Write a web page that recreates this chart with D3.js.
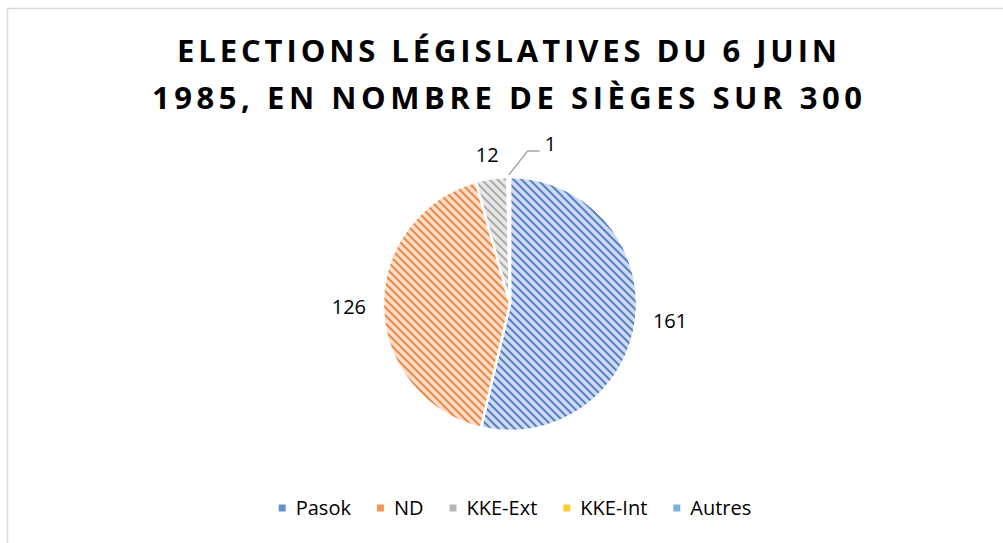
<!DOCTYPE html>
<html>
<head>
<meta charset="utf-8">
<script src="https://cdn.jsdelivr.net/npm/d3@7"></script>
<style>
  html, body { margin: 0; padding: 0; background: #fff; }
  svg { display: block; font-family: "Open Sans", "Noto Sans", sans-serif; }
</style>
</head>
<body>
<svg id="chart" width="1003" height="543"></svg>
<script>
// Seats won per party, legislative elections of 2 June 1985 (300 seats)
const parties = ["Pasok", "ND", "KKE-Ext", "KKE-Int", "Autres"];
const seats = [161, 126, 12, 1, 0];
const colors = ["#4472C4", "#ED7D31", "#A5A5A5", "#FFC000", "#5B9BD5"];
const titleLines = ["ELECTIONS LÉGISLATIVES DU 6 JUIN", "1985, EN NOMBRE DE SIÈGES SUR 300"];

const svg = d3.select("#chart");

// outer chart frame (runs off the right and bottom edges)
svg.append("rect")
  .attr("x", 7.5).attr("y", 8.5)
  .attr("width", 1010).attr("height", 560)
  .attr("fill", "#fff")
  .attr("stroke", "#d9d9d9").attr("stroke-width", 1.5);

// diagonal hatch patterns, one per party colour
const defs = svg.append("defs");
colors.forEach((c, i) => {
  const p = defs.append("pattern")
    .attr("id", "hatch" + i)
    .attr("patternUnits", "userSpaceOnUse")
    .attr("width", 8).attr("height", 8);
  p.append("rect").attr("width", 8).attr("height", 8)
    .attr("fill", d3.interpolateRgb("#ffffff", c)(0.25));
  p.append("path")
    .attr("d", "M-2,-2 L10,10 M-2,6 L2,10 M6,-2 L10,2")
    .attr("stroke", c).attr("stroke-width", 2.2).attr("stroke-opacity", 0.85);
});

// title
const title = svg.append("g").attr("font-weight", 700).attr("font-size", 31).attr("fill", "#000");
const titleWidths = [660, 710];
titleLines.forEach((t, i) => {
  title.append("text")
    .attr("x", 507).attr("y", 62 + i * 47)
    .attr("text-anchor", "middle")
    .attr("textLength", titleWidths[i])
    .attr("lengthAdjust", "spacing")
    .text(t);
});

// pie
const cx = 510, cy = 304, r = 127;
const data = parties.map((p, i) => ({ party: p, value: seats[i], i }));
const pie = d3.pie().value(d => d.value).sort(null);
const arcs = pie(data);
const arc = d3.arc().innerRadius(0).outerRadius(r);

const g = svg.append("g").attr("transform", `translate(${cx},${cy})`);
g.selectAll("path.slice")
  .data(arcs.filter(a => a.data.value > 0))
  .join("path")
  .attr("class", "slice")
  .attr("d", arc)
  .attr("fill", a => `url(#hatch${a.data.i})`)
  .attr("stroke", "#fff")
  .attr("stroke-width", 2.5)
  .attr("stroke-linejoin", "round");

// data labels placed just outside each slice
const labels = g.append("g").attr("font-size", 20).attr("fill", "#000");
arcs.filter(a => a.data.value > 0).forEach(a => {
  const mid = (a.startAngle + a.endAngle) / 2;
  const sx = Math.sin(mid), sy = -Math.cos(mid);
  if (a.data.value < 5 && a.index === 3) {
    // tiny slice: leader line to the label
    const p0 = [sx * (r + 2), sy * (r + 2)];
    const p1 = [p0[0] + 19, p0[1] - 24];
    const p2 = [p1[0] + 12, p1[1]];
    labels.append("path")
      .attr("d", d3.line()([p0, p1, p2]))
      .attr("fill", "none").attr("stroke", "#a6a6a6").attr("stroke-width", 1.3);
    labels.append("text")
      .attr("x", p2[0] + 5).attr("y", p2[1])
      .text(a.data.value);
    return;
  }
  const t = labels.append("text").text(a.data.value);
  const w = t.node().getComputedTextLength();
  const h = 14;
  const R = r + 17;
  const x = sx * R + sx * w / 2;
  const y = sy * R + sy * h / 2;
  t.attr("x", x).attr("y", y).attr("text-anchor", "middle").attr("dy", "0.35em");
});

// legend
const legend = svg.append("g").attr("font-size", 20).attr("fill", "#000");
const items = [];
let xpos = 0;
parties.forEach((p, i) => {
  const it = legend.append("g");
  it.append("rect").attr("x", 0).attr("y", -3.5).attr("width", 7).attr("height", 7)
    .attr("fill", colors[i]).attr("opacity", 0.8);
  const tx = it.append("text").attr("x", 17).attr("dy", "0.35em").text(p);
  const w = tx.node().getComputedTextLength();
  items.push({ it, x: xpos });
  xpos += 17 + w + 26;
});
const totalW = xpos - 26;
const lx0 = 515 - totalW / 2;
items.forEach(d => d.it.attr("transform", `translate(${lx0 + d.x},508)`));
</script>
</body>
</html>
